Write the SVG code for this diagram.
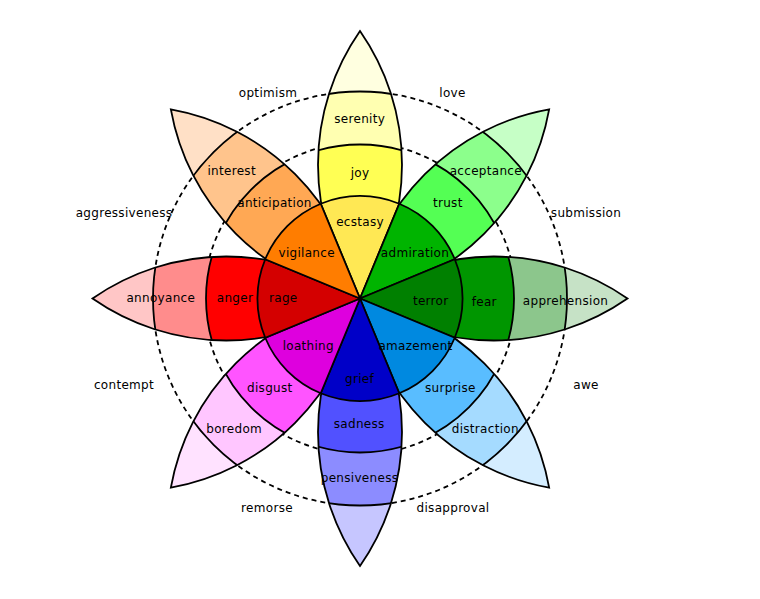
<svg xmlns="http://www.w3.org/2000/svg" xmlns:xlink="http://www.w3.org/1999/xlink" width="760" height="599" viewBox="0 0 760 599">
<style>
.ln{stroke:#000;stroke-width:1.8;}
.dash{fill:none;stroke:#000;stroke-width:1.8;stroke-dasharray:5,4;}
text{font-family:"DejaVu Sans","Liberation Sans",sans-serif;font-size:12px;letter-spacing:0.3px;text-anchor:middle;fill:#000;}
</style>
<defs>
<path id="lens" d="M0,0 A234,234 0 0,1 0,-267.5 A234,234 0 0,1 0,0 Z"/>
<clipPath id="lensClip"><use xlink:href="#lens"/></clipPath>
<path id="sector" d="M0,0 L-39.25,-94.76 A102.5,102.5 0 0,1 39.25,-94.76 Z"/>
</defs>
<rect width="760" height="599" fill="#fff"/>
<g id="dashed-circles">
<circle class="dash" cx="360" cy="298.5" r="156"/>
<circle class="dash" cx="360" cy="298.5" r="207"/>
</g>
<g id="petals">
<g id="petal-joy" transform="translate(360,298.5) rotate(0)">
<use xlink:href="#lens" fill="#FFFFE0"/>
<g clip-path="url(#lensClip)"><circle class="ln" r="207" fill="#FFFFB1"/><circle class="ln" r="154" fill="#FFFF54"/></g>
<use xlink:href="#lens" fill="none" class="ln"/>
</g>
<g id="petal-trust" transform="translate(360,298.5) rotate(45)">
<use xlink:href="#lens" fill="#C6FFC6"/>
<g clip-path="url(#lensClip)"><circle class="ln" r="207" fill="#8CFF8C"/><circle class="ln" r="154" fill="#54FF54"/></g>
<use xlink:href="#lens" fill="none" class="ln"/>
</g>
<g id="petal-fear" transform="translate(360,298.5) rotate(90)">
<use xlink:href="#lens" fill="#C6E2C6"/>
<g clip-path="url(#lensClip)"><circle class="ln" r="207" fill="#8CC68C"/><circle class="ln" r="154" fill="#009600"/></g>
<use xlink:href="#lens" fill="none" class="ln"/>
</g>
<g id="petal-surprise" transform="translate(360,298.5) rotate(135)">
<use xlink:href="#lens" fill="#D4EDFF"/>
<g clip-path="url(#lensClip)"><circle class="ln" r="207" fill="#A5DBFF"/><circle class="ln" r="154" fill="#59BDFF"/></g>
<use xlink:href="#lens" fill="none" class="ln"/>
</g>
<g id="petal-sadness" transform="translate(360,298.5) rotate(180)">
<use xlink:href="#lens" fill="#C6C6FF"/>
<g clip-path="url(#lensClip)"><circle class="ln" r="207" fill="#8C8CFF"/><circle class="ln" r="154" fill="#5151FF"/></g>
<use xlink:href="#lens" fill="none" class="ln"/>
</g>
<g id="petal-disgust" transform="translate(360,298.5) rotate(225)">
<use xlink:href="#lens" fill="#FFE2FF"/>
<g clip-path="url(#lensClip)"><circle class="ln" r="207" fill="#FFC6FF"/><circle class="ln" r="154" fill="#FF54FF"/></g>
<use xlink:href="#lens" fill="none" class="ln"/>
</g>
<g id="petal-anger" transform="translate(360,298.5) rotate(270)">
<use xlink:href="#lens" fill="#FFC6C6"/>
<g clip-path="url(#lensClip)"><circle class="ln" r="207" fill="#FF8C8C"/><circle class="ln" r="154" fill="#FF0000"/></g>
<use xlink:href="#lens" fill="none" class="ln"/>
</g>
<g id="petal-anticipation" transform="translate(360,298.5) rotate(315)">
<use xlink:href="#lens" fill="#FFE0C6"/>
<g clip-path="url(#lensClip)"><circle class="ln" r="207" fill="#FFC48C"/><circle class="ln" r="154" fill="#FFA854"/></g>
<use xlink:href="#lens" fill="none" class="ln"/>
</g>
</g>
<g id="core" transform="translate(360,298.5)">
<use id="ecstasy" xlink:href="#sector" class="ln" fill="#FFE854" transform="rotate(0)"/>
<use id="admiration" xlink:href="#sector" class="ln" fill="#00B400" transform="rotate(45)"/>
<use id="terror" xlink:href="#sector" class="ln" fill="#008000" transform="rotate(90)"/>
<use id="amazement" xlink:href="#sector" class="ln" fill="#0089E0" transform="rotate(135)"/>
<use id="grief" xlink:href="#sector" class="ln" fill="#0000C8" transform="rotate(180)"/>
<use id="loathing" xlink:href="#sector" class="ln" fill="#DE00DE" transform="rotate(225)"/>
<use id="rage" xlink:href="#sector" class="ln" fill="#D40000" transform="rotate(270)"/>
<use id="vigilance" xlink:href="#sector" class="ln" fill="#FF7D00" transform="rotate(315)"/>
</g>
<g id="labels">
<text x="359.7" y="122.7">serenity</text>
<text x="360" y="177.3">joy</text>
<text x="360" y="226">ecstasy</text>
<text x="485.8" y="175">acceptance</text>
<text x="447.8" y="206.7">trust</text>
<text x="415" y="256.7">admiration</text>
<text x="565.5" y="304.5">apprehension</text>
<text x="484.3" y="305.5">fear</text>
<text x="430.7" y="304.7">terror</text>
<text x="485.3" y="433.3">distraction</text>
<text x="450.3" y="392.3">surprise</text>
<text x="415.5" y="350">amazement</text>
<text x="359.5" y="481.7">pensiveness</text>
<text x="359.2" y="428.3">sadness</text>
<text x="359.5" y="383.3">grief</text>
<text x="234.2" y="433.3">boredom</text>
<text x="269.8" y="392.3">disgust</text>
<text x="308.3" y="350">loathing</text>
<text x="160.8" y="302.3">annoyance</text>
<text x="235" y="302.3">anger</text>
<text x="283.3" y="301.7">rage</text>
<text x="231.7" y="175">interest</text>
<text x="274.5" y="206.7">anticipation</text>
<text x="306.7" y="256.7">vigilance</text>
</g>
<g id="dyads">
<text x="268" y="97">optimism</text>
<text x="452.5" y="97">love</text>
<text x="124" y="217">aggressiveness</text>
<text x="586" y="217">submission</text>
<text x="124" y="389">contempt</text>
<text x="586" y="389">awe</text>
<text x="267" y="512">remorse</text>
<text x="453" y="512">disapproval</text>
</g>
</svg>
